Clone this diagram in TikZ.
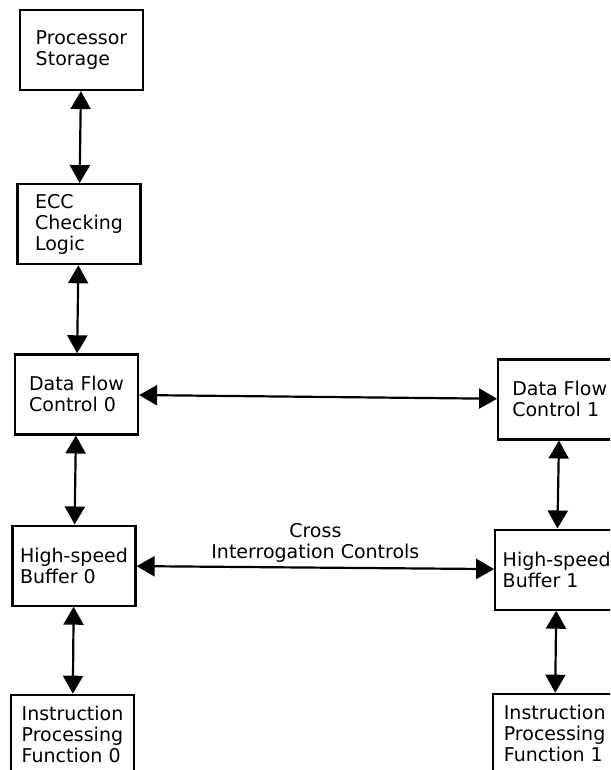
\documentclass[tikz,border=0pt]{standalone}
\usepackage{fontspec}
\setmainfont{DejaVu Sans}
\usepackage{tikz}
\usetikzlibrary{shapes, arrows.meta, positioning}
\tikzstyle{block} = [rectangle, draw, line width=2.2pt, align=left,
    minimum width=123pt, minimum height=80pt, inner sep=3pt, font=\fontsize{19}{21}\selectfont]
\tikzstyle{line} = [draw, line width=2.2pt,
    {Triangle[length=18pt,width=20pt]}-{Triangle[length=18pt,width=20pt]}]
\tikzstyle{edgetext} = [align=center, inner sep=4pt, font=\fontsize{19}{21}\selectfont]

\begin{document}
\begin{tikzpicture}[node distance = 88pt, auto]
      \useasboundingbox (0,0) rectangle (610pt,-770pt);
      \clip (0,0) rectangle (610pt,-770pt);
      % Unit 0
      \node [block] (storage) at (81.5pt,-50pt) {Processor\\Storage};
      \node [block, below=92pt of storage, xshift=-2.5pt] (ecc) {ECC\\Checking\\Logic};
      \node [block, below=of ecc, xshift=-2.5pt] (dataflow-0) {Data Flow\\Control 0};
      \node [block, below=89pt of dataflow-0, xshift=-2.5pt] (buffer-0) {High-speed\\Buffer 0};
      \node [block, below=87pt of buffer-0, xshift=-1.5pt] (instruction-0) {Instruction\\Processing\\Function 0};
      % Unit 1
      \node [block, right=358pt of dataflow-0, yshift=-5pt] (dataflow-1) {Data Flow\\Control 1};
      \node [block, below=88pt of dataflow-1, xshift=-3pt] (buffer-1) {High-speed\\Buffer 1};
      \node [block, below=82pt of buffer-1, xshift=-2pt] (instruction-1) {Instruction\\Processing\\Function 1};
      % Draw edges
      \path [line] (storage) -- (ecc);
      \path [line] (ecc) -- (dataflow-0);
      \path [line] (dataflow-0) -- (buffer-0);
      \path [line] (buffer-0) -- (instruction-0);
      \path [line] (dataflow-1) -- (buffer-1);
      \path [line] (buffer-1) -- (instruction-1);
      \path [line] (dataflow-0) -- (dataflow-1);
      \path [line] (buffer-0) -- node [edgetext, above] {Cross\\Interrogation Controls} (buffer-1);
    \end{tikzpicture}
\end{document}
